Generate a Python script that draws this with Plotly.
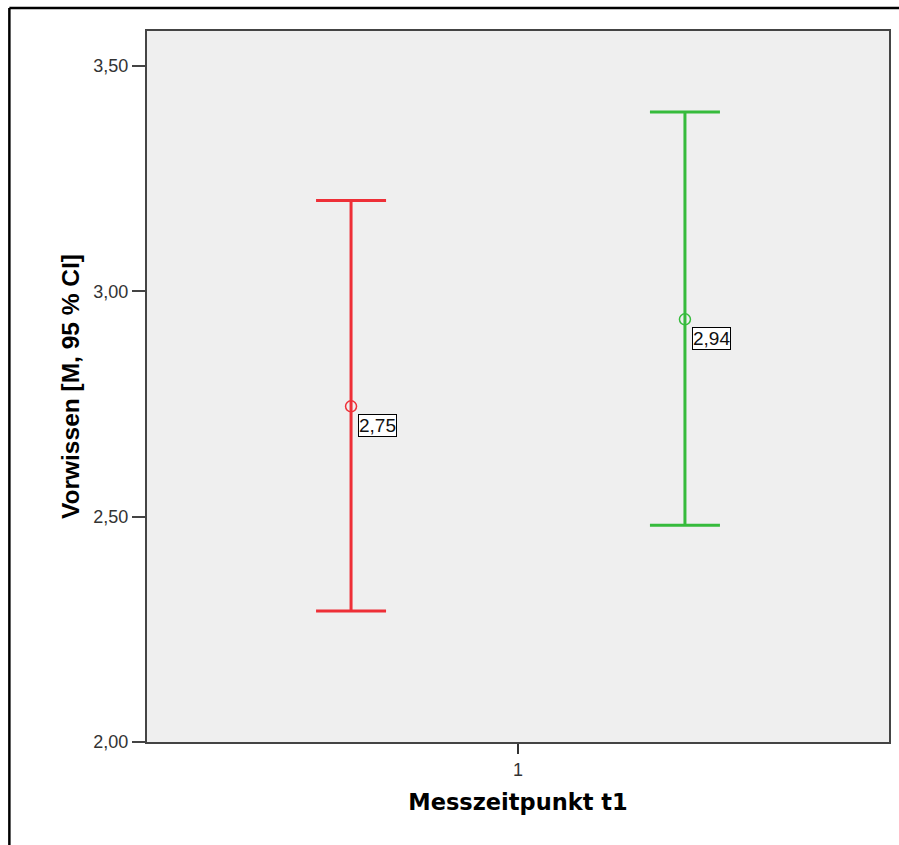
import plotly.graph_objects as go

groups = ["Gruppe A", "Gruppe B"]
group_pos = [0.775, 1.225]
means = [2.745, 2.938]
upper = [3.202, 3.398]
lower = [2.291, 2.481]
mean_labels = ["2,75", "2,94"]
colors = ["#ee2f37", "#36bb3c"]
y_ticks = [2.0, 2.5, 3.0, 3.5]

W, H = 899, 845
L, R, T, B = 147, 8, 31, 103
pw, ph = W - L - R, H - T - B

fig = go.Figure()
for i in range(len(groups)):
    fig.add_trace(go.Scatter(
        x=[group_pos[i]], y=[means[i]],
        mode="markers",
        marker=dict(symbol="circle-open", size=11, color=colors[i], line=dict(width=1.5, color=colors[i])),
        error_y=dict(type="data", symmetric=False,
                     array=[upper[i] - means[i]], arrayminus=[means[i] - lower[i]],
                     color=colors[i], thickness=3, width=35),
        showlegend=False, name=groups[i],
    ))
    fig.add_annotation(x=group_pos[i], y=means[i], text=mean_labels[i], showarrow=False,
                       xanchor="left", yanchor="top", xshift=7, yshift=-8,
                       bgcolor="white", bordercolor="black", borderwidth=1, borderpad=0,
                       font=dict(family="Liberation Sans, Arial", size=19, color="#111"))

# outer frame (cut at right and bottom)
px = lambda p: (p - L) / pw
py = lambda p: (H - B - p) / ph
fig.add_shape(type="line", xref="paper", yref="paper", x0=px(9), x1=px(905), y0=py(8), y1=py(8),
              line=dict(color="black", width=2.5))
fig.add_shape(type="line", xref="paper", yref="paper", x0=px(9), x1=px(9), y0=py(8), y1=py(850),
              line=dict(color="black", width=2.5))

fig.update_layout(
    width=W, height=H,
    margin=dict(l=L, r=R, t=T, b=B),
    paper_bgcolor="white",
    plot_bgcolor="#efefef",
    separators=",.",
    xaxis=dict(range=[0.5, 1.5], tickvals=[1], ticktext=["1"], ticks="outside", ticklen=10,
               tickwidth=2, tickcolor="#333", showgrid=False, zeroline=False,
               showline=True, linecolor="#444", linewidth=2, mirror=True,
               tickfont=dict(family="Liberation Sans, Arial", size=18, color="#333"),
               title=dict(text="<b>Messzeitpunkt t1</b>", standoff=16,
                          font=dict(family="DejaVu Sans", size=22.5, color="black"))),
    yaxis=dict(range=[2.0, 3.578], tickvals=y_ticks, tickformat=".2f", ticks="outside", ticklen=13,
               tickwidth=2, tickcolor="#444", showgrid=False, zeroline=False,
               showline=True, linecolor="#444", linewidth=2, mirror=True,
               tickfont=dict(family="Liberation Sans, Arial", size=18, color="#333"),
               title=dict(text="<b>Vorwissen [M, 95 % CI]</b>", standoff=7,
                          font=dict(family="Liberation Sans, Arial", size=24.5, color="black"))),
)

fig.write_html("out.html")
